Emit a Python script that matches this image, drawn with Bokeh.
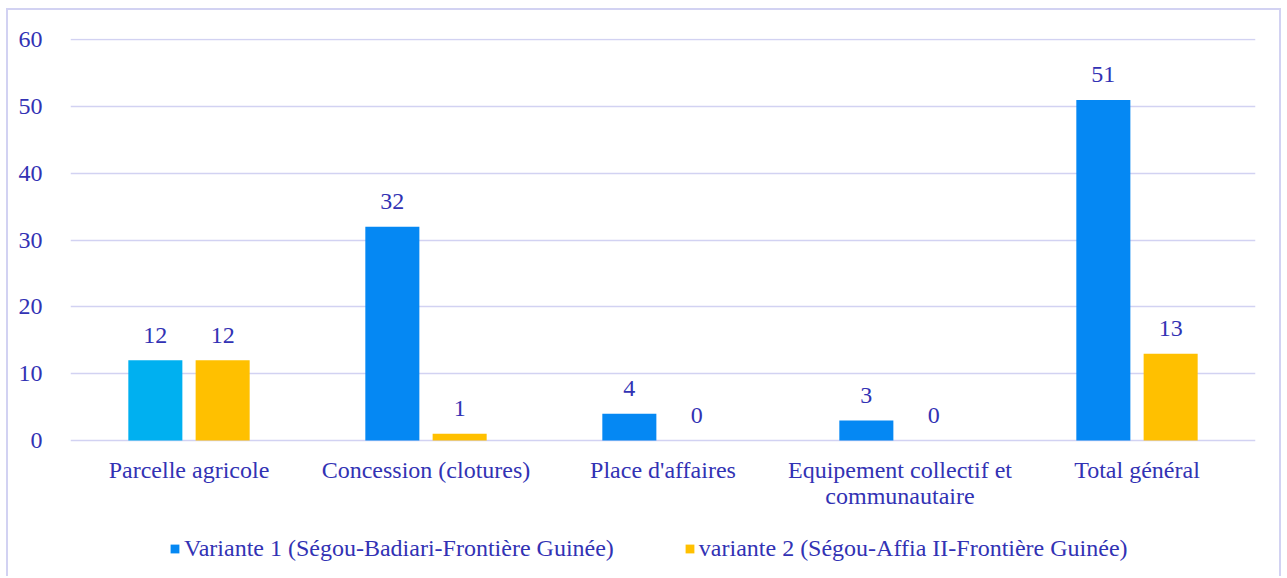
from bokeh.plotting import figure
from bokeh.models import ColumnDataSource, FactorRange, Range1d, Legend, LegendItem, FixedTicker
from bokeh.transform import dodge
from bokeh.core.properties import value
from bokeh.embed import file_html
from bokeh.resources import INLINE

categories = ["Parcelle agricole", "Concession (clotures)", "Place d'affaires",
              "Equipement collectif et communautaire", "Total général"]
variante1 = [12, 32, 4, 3, 51]
variante2 = [12, 1, 0, 0, 13]
series_names = ["Variante 1 (Ségou-Badiari-Frontière Guinée)",
                "variante 2 (Ségou-Affia II-Frontière Guinée)"]
tick_labels = ["Parcelle agricole", "Concession (clotures)", "Place d'affaires",
               "Equipement collectif et\ncommunautaire", "Total général"]
y_ticks = [0, 10, 20, 30, 40, 50, 60]

BLUE = "#0588F3"
LIGHT_BLUE = "#00B0F0"
YELLOW = "#FFC000"
TXT = "#3232B4"
GRID = "#D2D2F2"
BORDER = "#D2D2F2"
FONT = "Liberation Serif"
FS = "24px"

c1 = [LIGHT_BLUE] + [BLUE] * (len(categories) - 1)
src = ColumnDataSource(dict(cat=categories, v1=variante1, v2=variante2, c1=c1,
                            l1=[str(v) for v in variante1], l2=[str(v) for v in variante2]))
tick_src = ColumnDataSource(dict(cat=categories, y=[0] * len(categories), lab=tick_labels))

p = figure(x_range=FactorRange(*categories), y_range=Range1d(-20.67, 60.2),
           width=1275, height=568, output_backend="svg", toolbar_location=None,
           min_border_left=62, min_border_right=28, min_border_top=28, min_border_bottom=0)
p.margin = (8, 0, 0, 6)
p.styles = {"border-left": f"2px solid {BORDER}", "border-top": f"2px solid {BORDER}",
            "border-right": f"2px solid {BORDER}"}
p.outline_line_color = None
p.x_range.range_padding = 0
p.x_range.factor_padding = 0

off, bw = 0.142, 0.228
r1 = p.vbar(x=dodge("cat", -off, range=p.x_range), top="v1", width=bw, source=src,
            fill_color="c1", line_color=None)
r2 = p.vbar(x=dodge("cat", off, range=p.x_range), top="v2", width=bw, source=src,
            fill_color=YELLOW, line_color=None)

for col, lab, d in (("v1", "l1", -off), ("v2", "l2", off)):
    p.text(x=dodge("cat", d, range=p.x_range), y=col, text=lab, source=src,
           text_align="center", text_baseline="alphabetic", y_offset=-25,
           text_font=value(FONT), text_font_size=FS, text_color=TXT)

# category labels (multi-line capable)
p.text(x=dodge("cat", 0, range=p.x_range), y="y", text="lab", source=tick_src,
       text_align="center", text_baseline="top", y_offset=17, text_line_height=1.0,
       text_font=value(FONT), text_font_size=FS, text_color=TXT)

p.xaxis.visible = False
p.yaxis.ticker = FixedTicker(ticks=y_ticks)
ax = p.yaxis[0]
ax.axis_line_color = None
ax.major_tick_line_color = None
ax.minor_tick_line_color = None
ax.major_label_text_font = FONT
ax.major_label_text_font_size = FS
ax.major_label_text_color = TXT
ax.major_label_standoff = 22

p.xgrid.grid_line_color = None
p.ygrid.grid_line_color = GRID
p.ygrid.grid_line_width = 1.6

legend = Legend(items=[LegendItem(label=series_names[0], renderers=[r1], index=1),
                       LegendItem(label=series_names[1], renderers=[r2], index=0)],
                orientation="horizontal", location=(99, 16),
                label_text_font=FONT, label_text_font_size=FS, label_text_color=TXT,
                glyph_width=11, glyph_height=11, spacing=70, label_standoff=4,
                label_height=26, border_line_color=None, background_fill_alpha=0,
                margin=0, padding=0)
p.add_layout(legend)

open("out.html", "w").write(file_html(p, INLINE))
